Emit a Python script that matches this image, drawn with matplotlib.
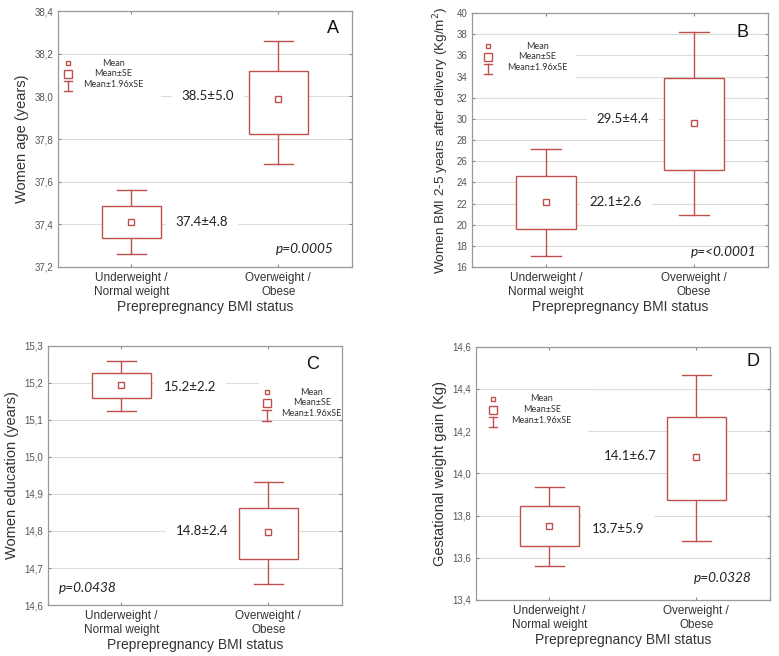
import matplotlib
matplotlib.use("Agg")
import matplotlib.pyplot as plt
from matplotlib.patches import Rectangle
from matplotlib.ticker import FuncFormatter
import numpy as np

plt.rcParams['font.family'] = ['Liberation Sans', 'DejaVu Sans']

cats = ["Underweight /\nNormal weight", "Overweight /\nObese"]
xlab = "Preprepregnancy BMI status"

# panel A - age
a_mean = [37.41, 37.99]
a_se_lo = [37.335, 37.825]
a_se_hi = [37.485, 38.12]
a_ci_lo = [37.26, 37.685]
a_ci_hi = [37.56, 38.26]
a_text = ["37.4±4.8", "38.5±5.0"]

# panel B - BMI after delivery
b_mean = [22.1, 29.6]
b_se_lo = [19.57, 25.13]
b_se_hi = [24.62, 33.9]
b_ci_lo = [17.01, 20.9]
b_ci_hi = [27.15, 38.17]
b_text = ["22.1±2.6", "29.5±4.4"]

# panel C - education
c_mean = [15.194, 14.796]
c_se_lo = [15.159, 14.723]
c_se_hi = [15.228, 14.863]
c_ci_lo = [15.125, 14.656]
c_ci_hi = [15.26, 14.932]
c_text = ["15.2±2.2", "14.8±2.4"]

# panel D - gestational weight gain
d_mean = [13.752, 14.076]
d_se_lo = [13.655, 13.874]
d_se_hi = [13.843, 14.269]
d_ci_lo = [13.563, 13.68]
d_ci_hi = [13.935, 14.465]
d_text = ["13.7±5.9", "14.1±6.7"]

red = "#c0504d"
grid_c = "#dcdcdc"

fig = plt.figure(figsize=(7.79, 6.56), dpi=100)


def comma(v, pos):
    return ("%.1f" % v).replace(".", ",")


def panel(rect, mean, se_lo, se_hi, ci_lo, ci_hi, texts, text_pos, ylim, yticks,
          ylabel, letter, letter_pos, pval, p_pos, leg, comma_fmt=True, ylsize=10.5):
    ax = fig.add_axes(rect)
    ax.set_xlim(-0.5, 1.5)
    ax.set_ylim(*ylim)
    ax.set_yticks(yticks)
    if comma_fmt:
        ax.yaxis.set_major_formatter(FuncFormatter(comma))
    ax.set_xticks([0, 1])
    ax.set_xticklabels(cats, fontsize=8.5, color="#333333")
    ax.tick_params(axis="y", labelsize=7, labelcolor="#555555")
    ax.tick_params(direction="in", length=2, color="#888888",
                   top=True, right=True)
    for s in ax.spines.values():
        s.set_color("#999999")
        s.set_linewidth(0.9)
    ax.set_axisbelow(True)
    ax.yaxis.grid(True, color=grid_c, linewidth=0.8)
    ax.set_xlabel(xlab, fontsize=10, color="#333333", labelpad=2)
    ax.set_ylabel(ylabel, fontsize=ylsize, color="#333333", labelpad=4)

    for i in range(2):
        ax.plot([i, i], [ci_lo[i], se_lo[i]], color=red, lw=1, zorder=2)
        ax.plot([i, i], [se_hi[i], ci_hi[i]], color=red, lw=1, zorder=2)
        ax.plot([i - 0.1, i + 0.1], [ci_lo[i], ci_lo[i]], color=red, lw=1, zorder=2)
        ax.plot([i - 0.1, i + 0.1], [ci_hi[i], ci_hi[i]], color=red, lw=1, zorder=2)
        ax.add_patch(Rectangle((i - 0.2, se_lo[i]), 0.4, se_hi[i] - se_lo[i],
                               facecolor="white", edgecolor=red, lw=1, zorder=2))
        ax.plot(i, mean[i], marker="s", ms=4, mfc="white", mec=red, mew=1, zorder=3)
        ax.text(text_pos[i][0], text_pos[i][1], texts[i], ha="center", va="center",
                fontsize=9.5, family=["Lato", "DejaVu Sans"], color="#222222", zorder=3,
                bbox=dict(facecolor="white", edgecolor="none", pad=7))

    ax.text(letter_pos[0], letter_pos[1], letter, transform=ax.transAxes,
            ha="center", va="center", fontsize=13, color="#111111")
    ax.text(p_pos[0], p_pos[1], pval, transform=ax.transAxes, ha="center",
            va="center", fontsize=9.8, style="italic",
            family=["Lato", "DejaVu Sans"], color="#222222")

    # legend drawn by hand
    mx, tx, y0, bx0, bx1, by0, by1 = leg
    ax.add_patch(Rectangle((bx0, by0), bx1 - bx0, by1 - by0, transform=ax.transAxes,
                           facecolor="white", edgecolor="none", zorder=1.5))
    ax.plot(mx, y0, marker="s", ms=3.5, mfc="white", mec=red, mew=1,
            transform=ax.transAxes, zorder=3)
    ax.plot(mx, y0 - 0.042, marker="s", ms=6, mfc="white", mec=red, mew=1,
            transform=ax.transAxes, zorder=3)
    ax.plot([mx, mx], [y0 - 0.07, y0 - 0.11], color=red, lw=1,
            transform=ax.transAxes, zorder=3)
    ax.plot([mx - 0.015, mx + 0.015], [y0 - 0.07, y0 - 0.07], color=red, lw=1,
            transform=ax.transAxes, zorder=3)
    ax.plot([mx - 0.015, mx + 0.015], [y0 - 0.11, y0 - 0.11], color=red, lw=1,
            transform=ax.transAxes, zorder=3)
    for k, s in enumerate(["Mean", "Mean±SE", "Mean±1.96xSE"]):
        ax.text(tx, y0 - 0.042 * k, s, transform=ax.transAxes, ha="center",
                va="center", fontsize=6.5, family=["Lato", "DejaVu Sans"],
                color="#333333", zorder=3)
    return ax


panel([0.0745, 0.593, 0.377, 0.390], a_mean, a_se_lo, a_se_hi, a_ci_lo, a_ci_hi,
      a_text, [(0.48, 37.41), (0.52, 38.0)], (37.2, 38.4),
      np.arange(37.2, 38.41, 0.2), "Women age (years)", "A", (0.935, 0.934),
      "p=0.0005", (0.84, 0.07), (0.034, 0.188, 0.797, 0.0, 0.35, 0.66, 0.83))

panel([0.606, 0.593, 0.380, 0.387], b_mean, b_se_lo, b_se_hi, b_ci_lo, b_ci_hi,
      b_text, [(0.47, 22.1), (0.52, 30.0)], (16, 40), np.arange(16, 41, 2),
      "Women BMI 2-5 years after delivery (Kg/m$^2$)", "B", (0.915, 0.925),
      "p=<0.0001", (0.85, 0.06), (0.054, 0.22, 0.87, 0.0, 0.35, 0.74, 0.9),
      comma_fmt=False, ylsize=9.7)

panel([0.0616, 0.0777, 0.377, 0.395], c_mean, c_se_lo, c_se_hi, c_ci_lo, c_ci_hi,
      c_text, [(0.466, 15.188), (0.547, 14.80)], (14.6, 15.3),
      np.arange(14.6, 15.31, 0.1), "Women education (years)", "C", (0.90, 0.927),
      "p=0.0438", (0.137, 0.065), (0.745, 0.898, 0.822, 0.72, 1.0, 0.725, 0.87))

panel([0.611, 0.0854, 0.377, 0.386], d_mean, d_se_lo, d_se_hi, d_ci_lo, d_ci_hi,
      d_text, [(0.466, 13.736), (0.548, 14.08)], (13.4, 14.6),
      np.arange(13.4, 14.61, 0.2), "Gestational weight gain (Kg)", "D", (0.942, 0.94),
      "p=0.0328", (0.84, 0.085), (0.058, 0.224, 0.794, 0.0, 0.38, 0.64, 0.83))

fig.savefig("out.png", dpi=100)
